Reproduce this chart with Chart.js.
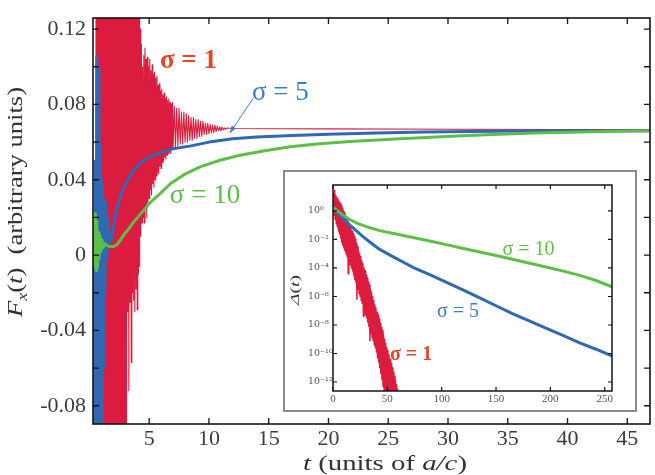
<!DOCTYPE html>
<html><head><meta charset="utf-8">
<script src="https://cdn.jsdelivr.net/npm/chart.js@4/dist/chart.umd.min.js"></script>
<style>
html,body{margin:0;padding:0;background:#fff;}
#wrap{position:relative;width:655px;height:475px;overflow:hidden;}
#main{position:absolute;left:0;top:0;width:655px;height:475px;}
#insetBox{position:absolute;left:283px;top:170px;width:350px;height:238px;border:2px solid #8c8c8c;background:#fff;}
#inset{position:absolute;left:0;top:0;width:350px;height:238px;}
</style></head><body>
<div id="wrap">
<canvas id="main" width="655" height="475"></canvas>
<div id="insetBox"><canvas id="inset" width="350" height="238"></canvas></div>
</div>
<script>
// ---------------- main panel data: F_x(t) ----------------
const xTicks = [5, 10, 15, 20, 25, 30, 35, 40, 45];
const yTicks = [-0.08, -0.06, -0.04, -0.02, 0, 0.02, 0.04, 0.06, 0.08, 0.10, 0.12];
const yTickLabels = ['-0.08', '', '-0.04', '', '0', '', '0.04', '', '0.08', '', '0.12'];

// sigma = 1 (red, strongly oscillating)
const redT = [
  0.50,0.55,0.60,0.65,0.70,0.75,0.80,0.85,0.90,0.95,
  1.00,1.05,1.10,1.15,1.20,1.25,1.30,1.35,1.40,1.45,
  1.50,1.55,1.60,1.65,1.70,1.75,1.80,1.85,1.90,1.95,
  2.00,2.05,2.10,2.15,2.20,2.25,2.30,2.35,2.40,2.45,
  2.50,2.55,2.60,2.65,2.70,2.75,2.80,2.85,2.90,2.95,
  3.00,3.05,3.10,3.15,3.20,3.25,3.30,3.35,3.40,3.45,
  3.50,3.55,3.60,3.65,3.70,3.75,3.80,3.85,3.90,3.95,
  4.00,4.05,4.10,4.15,4.20,4.25,4.30,4.35,4.40,4.45,
  4.50,4.55,4.60,4.65,4.70,4.75,4.80,4.85,4.90,4.95,
  5.00,5.05,5.10,5.15,5.20,5.25,5.30,5.35,5.40,5.45,
  5.50,5.55,5.60,5.65,5.70,5.75,5.80,5.85,5.90,5.95,
  6.00,6.05,6.10,6.15,6.20,6.25,6.30,6.35,6.40,6.45,
  6.50,6.55,6.60,6.65,6.70,6.75,6.80,6.85,6.90,6.95,
  7.0,7.1,7.2,7.3,7.4,7.5,7.6,7.7,7.8,7.9,
  8.0,8.1,8.2,8.3,8.4,8.5,8.6,8.7,8.8,8.9,
  9.0,9.1,9.2,9.3,9.4,9.5,9.6,9.7,9.8,9.9,
  10.0,10.1,10.2,10.3,10.4,10.5,10.6,10.7,10.8,10.9,
  11.0,11.1,11.2,11.3,11.4,11.5,12,20,30,40,46.9];
const redF = [
  0.0,0.2,-0.2,0.2,-0.2,0.2,-0.2,0.2,-0.2,0.2,
  -0.2,0.2,-0.2,0.2,-0.2,0.2,-0.2,0.2,-0.2,0.2,
  -0.2,0.2,-0.2,0.2,-0.2,0.2,-0.2,0.2,-0.2,0.2,
  -0.2,0.2,-0.2,0.2,-0.2,0.2,-0.2,0.2,-0.2,0.2,
  -0.2,0.2,-0.2,0.2,-0.2,0.2,-0.2,0.2,-0.2,0.2,
  -0.2,0.2,-0.095,0.2,-0.03,0.2,-0.072,0.2,-0.025,0.2,
  -0.057,0.2,-0.02,0.2,-0.024,0.2,-0.03,0.2,-0.018,0.2,
  -0.029,0.18,-0.01,0.14,-0.006,0.12,0.01,0.112,0.017,0.1,
  0.02,0.106,0.017,0.11,0.025,0.104,0.02,0.105,0.028,0.1,
  0.03,0.104,0.035,0.098,0.032,0.101,0.038,0.096,0.036,0.097,
  0.04,0.094,0.042,0.095,0.044,0.09,0.043,0.091,0.047,0.087,
  0.046,0.088,0.049,0.085,0.05,0.086,0.052,0.083,0.051,0.084,
  0.053,0.082,0.054,0.083,0.055,0.081,0.054,0.08,0.056,0.081,
  0.057,0.079,0.057,0.078,0.058,0.078,0.059,0.076,0.059,0.076,
  0.06,0.075,0.06,0.074,0.061,0.073,0.061,0.073,0.062,0.072,
  0.062,0.072,0.063,0.071,0.063,0.071,0.064,0.070,0.064,0.070,
  0.0645,0.0695,0.065,0.069,0.065,0.069,0.0655,0.0685,0.066,0.068,
  0.066,0.068,0.0665,0.0675,0.0668,0.0675,0.0672,0.067,0.0668,0.0667,0.0667];

// sigma = 5 (blue)
const blueT = [0.31,0.4,0.5,0.55,0.62,0.68,0.74,0.8,0.86,0.92,0.98,1.04,1.1,1.16,1.22,1.3,1.38,1.46,1.55,1.65,1.75,1.85,
  2.0,2.2,2.5,2.8,3.2,3.7,4.3,5.0,6.0,7.0,8.5,10.0,12.0,14.0,17.0,20.0,24.0,28.0,34.0,40.0,46.9];
const blueF = [0.0,-0.2,0.05,-0.2,0.105,-0.2,0.1,-0.2,0.06,-0.2,0.04,-0.15,0.035,-0.06,0.03,-0.02,0.028,-0.002,0.02,0.006,0.012,0.008,
  0.014,0.022,0.029,0.035,0.04,0.045,0.049,0.052,0.0545,0.0565,0.058,0.06,0.0618,0.0627,0.0635,0.0642,0.0648,0.0653,0.0658,0.066,0.066];

// sigma = 10 (green)
const greenT = [0.31,0.38,0.44,0.5,0.56,0.62,0.68,0.74,0.8,0.88,0.96,1.05,1.15,1.3,1.5,1.75,2.0,2.3,2.6,2.9,3.3,3.7,4.3,5.1,5.8,
  6.8,8.0,9.3,11.0,12.6,14.8,16.8,19.0,21.8,26.0,31.6,37.1,42.0,46.9];
const greenF = [0.0,0.014,-0.006,0.022,-0.008,0.018,-0.006,0.012,-0.002,0.01,0.002,0.008,0.004,0.006,0.005,0.0045,0.0045,0.0055,0.008,0.011,0.014,0.0175,0.022,0.028,0.032,
  0.038,0.043,0.047,0.0505,0.053,0.0555,0.0575,0.059,0.0603,0.0618,0.0635,0.0648,0.0655,0.066];

// ---------------- inset data: Delta(t), stored as log10 values ----------------
const insetXTicks = [0, 50, 100, 150, 200, 250];
const insetYTicks = [1e-12, 1e-10, 1e-8, 1e-6, 1e-4, 1e-2, 1e0];
const insetYTickLabels = ['10\u207B\u00B9\u00B2','10\u207B\u00B9\u2070','10\u207B\u2078','10\u207B\u2076','10\u207B\u2074','10\u207B\u00B2','10\u2070'];

const insetRedT = [
  0,0.5,1,1.5,2,2.5,3,3.5,4,4.5,5,5.5,6,6.5,7,7.5,8,8.5,9,9.5,
  10,10.5,11,11.5,12,12.5,13,13.5,14,14.5,15,15.5,16,16.5,17,17.5,18,18.5,19,19.5,
  20,20.5,21,21.5,22,22.5,23,23.5,24,24.5,25,25.5,26,26.5,27,27.5,28,28.5,29,29.5,
  30,30.5,31,31.5,32,32.5,33,33.5,34,34.5,35,35.5,36,36.5,37,37.5,38,38.5,39,39.5,
  40,40.5,41,41.5,42,42.5,43,43.5,44,44.5,45,45.5,46,46.5,47,47.5,48,48.5,49,49.5,
  50,50.5,51,51.5,52,52.5,53,53.5,54,54.5,55,55.5,56,56.5,57,57.5,58,58.5,59,59.5];
const insetRedLog = [
  0.25,1.2,-0.3,1.45,-0.6,1.1,-0.9,0.95,-1.1,0.85,-1.4,0.7,-1.6,0.55,-1.9,0.4,-2.2,0.2,-2.4,0.0,
  -2.6,-0.15,-2.8,-0.3,-3.0,-0.45,-3.2,-0.6,-4.4,-0.8,-3.6,-1.0,-3.8,-1.2,-4.0,-1.4,-4.2,-1.6,-4.5,-1.8,
  -4.8,-2.0,-5.0,-2.3,-6.2,-2.5,-5.5,-2.8,-5.8,-3.0,-6.0,-3.2,-6.3,-3.5,-6.5,-3.7,-7.4,-4.0,-7.0,-4.2,
  -7.3,-4.5,-7.5,-4.7,-7.8,-5.0,-8.1,-5.2,-9.1,-5.5,-8.6,-5.7,-8.9,-6.0,-9.1,-6.3,-9.4,-6.6,-9.6,-6.8,
  -9.9,-7.1,-10.3,-7.3,-10.6,-7.6,-11.0,-7.9,-11.4,-8.2,-11.8,-8.4,-12.3,-8.7,-12.7,-9.0,-13.0,-9.3,-13.5,-9.6,
  -14,-9.8,-14,-10.1,-14,-10.4,-14,-10.7,-14,-11.0,-14,-11.3,-14,-11.6,-14,-11.9,-14,-12.2,-14,-12.5];

const insetBlueT = [0,5,10,15,20,27.6,35,43,55,73.5,90,105,120,135,150,165,180,197,212,227,242,256];
const insetBlueLog = [0.25,-0.2,-0.6,-0.95,-1.3,-1.8,-2.25,-2.7,-3.2,-3.95,-4.5,-5.02,-5.55,-6.1,-6.65,-7.2,-7.7,-8.25,-8.75,-9.25,-9.7,-10.15];

const insetGreenT = [0,5,10,15,22,30,43,58,73.5,90,105,120,135,150,165,180,197,212,227,242,256];
const insetGreenLog = [0.25,-0.05,-0.33,-0.58,-0.85,-1.08,-1.38,-1.62,-1.86,-2.12,-2.38,-2.63,-2.88,-3.13,-3.39,-3.65,-3.95,-4.22,-4.52,-4.88,-5.3];

// ---------------- styling ----------------
const RED = '#dc1c3e', BLUE = '#2f69b4', GREEN = '#5cbf47';
const RED_TXT = '#e2472a', BLUE_TXT = '#3a7fc4', GREEN_TXT = '#5cbf47';
const SERIF = '"Liberation Serif", "Times New Roman", serif';
const TICK_COLOR = '#3c3c3c';

const pts = (ts, vs) => ts.map((t, i) => ({x: t, y: vs[i]}));
const ptsLog = (ts, ls) => ts.map((t, i) => ({x: t, y: Math.pow(10, ls[i])}));

function drawParts(ctx, parts, x, y, opt = {}) {
  ctx.save();
  ctx.translate(x, y);
  if (opt.rot) ctx.rotate(opt.rot);
  let w = 0;
  parts.forEach(p => { ctx.font = p.f; w += ctx.measureText(p.t).width; });
  const sx = opt.width ? opt.width / w : 1;
  ctx.scale(sx, 1);
  let cx = opt.align === 'center' ? -w / 2 : 0;
  ctx.textBaseline = 'alphabetic';
  parts.forEach(p => {
    ctx.font = p.f; ctx.fillStyle = p.c || opt.c || '#333';
    ctx.fillText(p.t, cx, p.dy || 0);
    cx += ctx.measureText(p.t).width;
  });
  ctx.restore();
}

function frameAndTicks(ctx, a, xs, ys, len, lw) {
  ctx.save();
  ctx.strokeStyle = '#151515';
  ctx.lineWidth = lw;
  ctx.beginPath();
  xs.ticks.forEach(t => {
    const px = xs.getPixelForValue(t.value);
    ctx.moveTo(px, a.bottom); ctx.lineTo(px, a.bottom - len);
    ctx.moveTo(px, a.top); ctx.lineTo(px, a.top + len);
  });
  ys.ticks.forEach(t => {
    const py = ys.getPixelForValue(t.value);
    ctx.moveTo(a.left, py); ctx.lineTo(a.left + len, py);
    ctx.moveTo(a.right, py); ctx.lineTo(a.right - len, py);
  });
  ctx.stroke();
  ctx.lineWidth = lw + 0.3;
  ctx.strokeRect(a.left, a.top, a.right - a.left, a.bottom - a.top);
  ctx.restore();
}

const mainDeco = {
  id: 'mainDeco',
  afterDraw(chart) {
    const {ctx, chartArea: a, scales: {x, y}} = chart;
    frameAndTicks(ctx, a, x, y, 6, 1.3);
    drawParts(ctx, [{t: '\u03C3 = 1', f: 'bold 27px ' + SERIF, c: RED_TXT}], x.getPixelForValue(5.9), y.getPixelForValue(0.0993));
    drawParts(ctx, [{t: '\u03C3 = 5', f: '27px ' + SERIF, c: BLUE_TXT}], x.getPixelForValue(13.6), y.getPixelForValue(0.0821));
    drawParts(ctx, [{t: '\u03C3 = 10', f: '27px ' + SERIF, c: GREEN_TXT}], x.getPixelForValue(6.73), y.getPixelForValue(0.0274));
    const x0 = x.getPixelForValue(13.69), y0 = y.getPixelForValue(0.0832);
    const x1 = x.getPixelForValue(11.76), y1 = y.getPixelForValue(0.0649);
    ctx.save();
    ctx.strokeStyle = BLUE_TXT; ctx.fillStyle = BLUE_TXT; ctx.lineWidth = 1;
    ctx.beginPath(); ctx.moveTo(x0, y0); ctx.lineTo(x1, y1); ctx.stroke();
    const ang = Math.atan2(y1 - y0, x1 - x0), L = 7, W = 2.6;
    ctx.beginPath();
    ctx.moveTo(x1, y1);
    ctx.lineTo(x1 - L * Math.cos(ang) + W * Math.sin(ang), y1 - L * Math.sin(ang) - W * Math.cos(ang));
    ctx.lineTo(x1 - L * Math.cos(ang) - W * Math.sin(ang), y1 - L * Math.sin(ang) + W * Math.cos(ang));
    ctx.closePath(); ctx.fill();
    ctx.restore();
    const f = '22px ' + SERIF, fi = 'italic 22px ' + SERIF;
    drawParts(ctx, [
      {t: 't', f: fi}, {t: ' (units of ', f: f}, {t: 'a/c', f: fi}, {t: ')', f: f}
    ], 385, 470, {align: 'center', width: 164, c: '#333'});
    drawParts(ctx, [
      {t: 'F', f: fi}, {t: 'x', f: 'italic 15px ' + SERIF, dy: 5}, {t: '(', f: f}, {t: 't', f: fi}, {t: ')  (arbitrary units)', f: f}
    ], 22, 202, {align: 'center', rot: -Math.PI / 2, width: 230, c: '#333'});
  }
};

const insetDeco = {
  id: 'insetDeco',
  afterDraw(chart) {
    const {ctx, chartArea: a, scales: {x, y}} = chart;
    frameAndTicks(ctx, a, x, y, 4, 1.2);
    drawParts(ctx, [{t: '\u03C3 = 10', f: '20px ' + SERIF, c: GREEN_TXT}], x.getPixelForValue(156), y.getPixelForValue(Math.pow(10, -3.09)));
    drawParts(ctx, [{t: '\u03C3 = 5', f: '20px ' + SERIF, c: BLUE_TXT}], x.getPixelForValue(95.7), y.getPixelForValue(Math.pow(10, -7.44)));
    drawParts(ctx, [{t: '\u03C3 = 1', f: 'bold 20px ' + SERIF, c: RED_TXT}], x.getPixelForValue(52.4), y.getPixelForValue(Math.pow(10, -10.46)));
    drawParts(ctx, [
      {t: '\u0394', f: 'italic 13px ' + SERIF}, {t: '(', f: '13px ' + SERIF}, {t: 't', f: 'italic 13px ' + SERIF}, {t: ')', f: '13px ' + SERIF}
    ], 14, (a.top + a.bottom) / 2 + 2, {align: 'center', rot: -Math.PI / 2, width: 30, c: '#333'});
  }
};

Chart.defaults.font.family = SERIF;

new Chart(document.getElementById('main'), {
  type: 'line',
  data: {
    datasets: [
      {label: '\u03C3 = 10', data: pts(greenT, greenF), borderColor: GREEN, borderWidth: 3, order: 0},
      {label: '\u03C3 = 5', data: pts(blueT, blueF), borderColor: BLUE, borderWidth: 3, order: 1},
      {label: '\u03C3 = 1', data: pts(redT, redF), borderColor: RED, borderWidth: 1.1, order: 2}
    ]
  },
  options: {
    responsive: false, animation: false, devicePixelRatio: 1,
    layout: {padding: {left: 0, top: 11, right: 5, bottom: 0}},
    elements: {point: {radius: 0}, line: {tension: 0, borderJoinStyle: 'round', borderCapStyle: 'round'}},
    plugins: {legend: {display: false}, tooltip: {enabled: false}},
    scales: {
      x: {
        type: 'linear', min: 0.3, max: 46.9,
        grid: {display: false, drawTicks: false}, border: {display: false},
        afterBuildTicks: s => { s.ticks = xTicks.map(v => ({value: v})); },
        afterFit: s => { s.height = 51; },
        ticks: {autoSkip: false, maxRotation: 0, padding: 4, color: TICK_COLOR, font: {size: 22, lineHeight: 1}, callback: v => String(v)}
      },
      y: {
        type: 'linear', min: -0.0897, max: 0.1259,
        grid: {display: false, drawTicks: false}, border: {display: false},
        afterBuildTicks: s => { s.ticks = yTicks.map(v => ({value: v})); },
        afterFit: s => { s.width = 93; },
        ticks: {autoSkip: false, padding: 7, color: TICK_COLOR, font: {size: 22, lineHeight: 1},
          callback: (v, i) => yTickLabels[i]}
      }
    }
  },
  plugins: [mainDeco]
});

new Chart(document.getElementById('inset'), {
  type: 'line',
  data: {
    datasets: [
      {label: '\u03C3 = 10', data: ptsLog(insetGreenT, insetGreenLog), borderColor: GREEN, borderWidth: 3, order: 0},
      {label: '\u03C3 = 5', data: ptsLog(insetBlueT, insetBlueLog), borderColor: BLUE, borderWidth: 3, order: 1},
      {label: '\u03C3 = 1', data: ptsLog(insetRedT, insetRedLog), borderColor: RED, borderWidth: 1.5, order: 2}
    ]
  },
  options: {
    responsive: false, animation: false, devicePixelRatio: 1,
    layout: {padding: {left: 23, top: 13, right: 23, bottom: 0}},
    elements: {point: {radius: 0}, line: {tension: 0, borderJoinStyle: 'round', borderCapStyle: 'round'}},
    plugins: {legend: {display: false}, tooltip: {enabled: false}},
    scales: {
      x: {
        type: 'linear', min: 0, max: 256.7,
        grid: {display: false, drawTicks: false}, border: {display: false},
        afterBuildTicks: s => { s.ticks = insetXTicks.map(v => ({value: v})); },
        afterFit: s => { s.height = 19; },
        ticks: {autoSkip: false, maxRotation: 0, padding: 3, color: '#555', font: {size: 11, lineHeight: 1}, callback: v => String(v)}
      },
      y: {
        type: 'logarithmic', min: Math.pow(10, -12.63), max: Math.pow(10, 1.82),
        grid: {display: false, drawTicks: false}, border: {display: false},
        afterBuildTicks: s => { s.ticks = insetYTicks.map(v => ({value: v})); },
        afterFit: s => { s.width = 25; },
        ticks: {autoSkip: false, crossAlign: 'far', padding: 3, color: '#555',
          font: {family: '"DejaVu Serif", serif', size: 9.5, lineHeight: 1},
          callback: (v, i) => insetYTickLabels[i]}
      }
    }
  },
  plugins: [insetDeco]
});
</script>
</body></html>
